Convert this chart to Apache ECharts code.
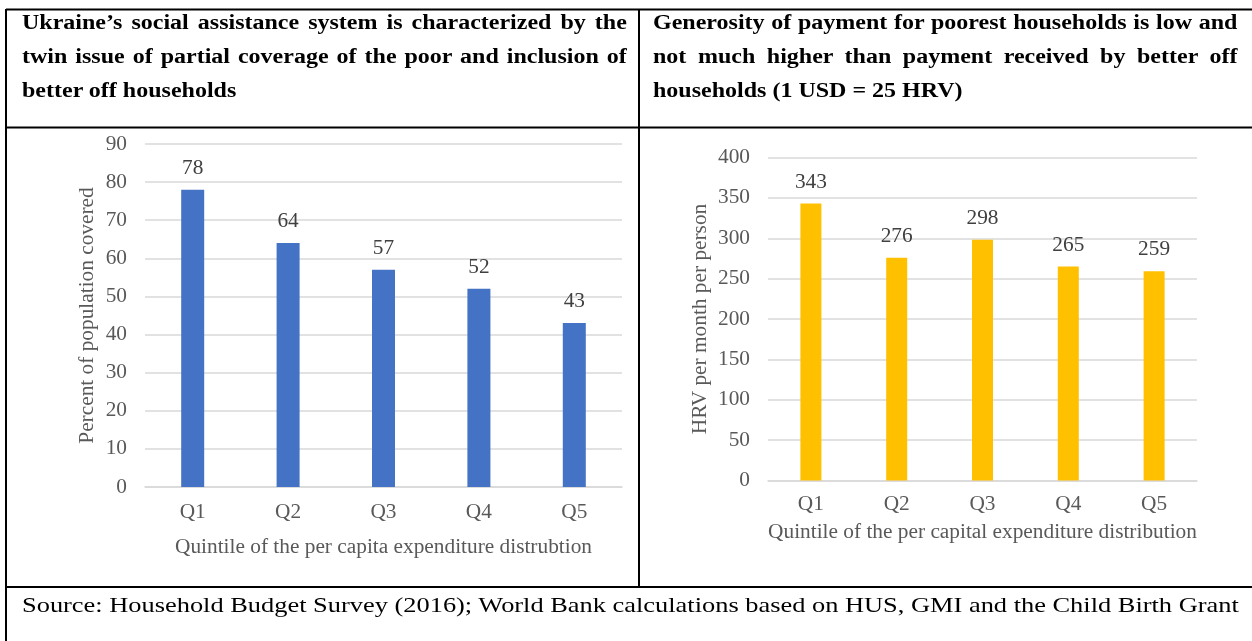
<!DOCTYPE html>
<html>
<head>
<meta charset="utf-8">
<script src="https://cdn.jsdelivr.net/npm/echarts@6/dist/echarts.min.js"></script>
<style>
  html, body { margin: 0; padding: 0; background: #fff; }
  #wrap { position: relative; width: 1252px; height: 641px; overflow: hidden; }
  #chart { position: absolute; left: 0; top: 0; width: 1252px; height: 641px; }
  .head {
    position: absolute; top: 5px;
    font-family: "Liberation Serif", "Times New Roman", serif;
    font-weight: bold; font-size: 20px; line-height: 34px; color: #000;
    transform: scaleX(1.2); transform-origin: 0 0;
  }
  .head div { text-align: justify; text-align-last: justify; white-space: nowrap; }
  .head div.last { text-align-last: left; }
  #src {
    position: absolute; left: 22px; top: 590px;
    font-family: "Liberation Serif", "Times New Roman", serif;
    font-size: 22px; line-height: 30px; color: #000; white-space: nowrap;
    transform: scaleX(1.2); transform-origin: 0 0;
  }
</style>
</head>
<body>
<div id="wrap">
  <div id="chart"></div>
  <div class="head" id="h1" style="left:22px; width:504px;"></div>
  <div class="head" id="h2" style="left:653px; width:487px;"></div>
  <div id="src"></div>
</div>
<script>
// Panel headings, one entry per printed line, and the source note
const headingLeft = [
  'Ukraine\u2019s social assistance system is characterized by the',
  'twin issue of partial coverage of the poor and inclusion of',
  'better off households'
];
const headingRight = [
  'Generosity of payment for poorest households is low and',
  'not much higher than payment received by better off',
  'households (1 USD = 25 HRV)'
];
const sourceNote = 'Source: Household Budget Survey (2016); World Bank calculations based on HUS, GMI and the Child Birth Grant';

// Quintiles of the expenditure distribution
const quintiles = ['Q1', 'Q2', 'Q3', 'Q4', 'Q5'];
// Percent of population covered by social assistance
const coverage = [78, 64, 57, 52, 43];
// Average payment, HRV per month per person
const payment = [343, 276, 298, 265, 259];

// Axis titles
const coverageYName = 'Percent of population covered';
const coverageXName = 'Quintile of the per capita expenditure distrubtion';
const paymentYName = 'HRV per month per person';
const paymentXName = 'Quintile of the per capital expenditure distribution';

function fillHeading(id, lines) {
  const box = document.getElementById(id);
  lines.forEach((t, i) => {
    const d = document.createElement('div');
    d.textContent = t;
    if (i === lines.length - 1) d.className = 'last';
    box.appendChild(d);
  });
}
fillHeading('h1', headingLeft);
fillHeading('h2', headingRight);
document.getElementById('src').textContent = sourceNote;

const serif = '"Liberation Serif", "Times New Roman", serif';
const fs = 21.33;
const gridColor = '#d9d9d9';
const tickColor = '#595959';

function valueAxis(gridIndex, max, interval, name, gap) {
  return {
    type: 'value', gridIndex, min: 0, max, interval,
    name, nameLocation: 'middle', nameGap: gap, nameRotate: 90,
    nameTextStyle: { fontFamily: serif, fontSize: fs, color: tickColor },
    axisLine: { show: false }, axisTick: { show: false },
    axisLabel: { fontFamily: serif, fontSize: fs, color: tickColor, margin: 18 },
    splitLine: { lineStyle: { color: gridColor, width: 1.5 } }
  };
}
function catAxis(gridIndex, name, gap, margin) {
  return {
    type: 'category', gridIndex, data: quintiles,
    name, nameLocation: 'middle', nameGap: gap,
    nameTextStyle: { fontFamily: serif, fontSize: fs, color: tickColor },
    axisLine: { lineStyle: { color: gridColor, width: 1.5 } },
    axisTick: { show: false },
    axisLabel: { fontFamily: serif, fontSize: fs, color: tickColor, margin }
  };
}
function barSeries(idx, data, color, width) {
  return {
    type: 'bar', xAxisIndex: idx, yAxisIndex: idx, data, barWidth: width,
    itemStyle: { color },
    label: { show: true, position: 'top', distance: 11, fontFamily: serif, fontSize: fs, color: '#404040' },
    silent: true, animation: false
  };
}

// Table rules around the two panels
const ruleStyle = { stroke: '#000', lineWidth: 2 };
const rules = [
  [6, 9.5, 1252, 9.5],
  [6, 127.5, 1252, 127.5],
  [6, 587, 1252, 587],
  [6, 9, 6, 641],
  [639, 9, 639, 587]
].map(([x1, y1, x2, y2]) => ({ type: 'line', shape: { x1, y1, x2, y2 }, style: ruleStyle, silent: true }));

const chart = echarts.init(document.getElementById('chart'), null, { renderer: 'canvas' });
chart.setOption({
  animation: false,
  grid: [
    { left: 145, top: 144, width: 477, height: 343 },
    { left: 768, top: 157.5, width: 429, height: 323 }
  ],
  xAxis: [catAxis(0, coverageXName, 50, 15), catAxis(1, paymentXName, 41, 13)],
  yAxis: [valueAxis(0, 90, 10, coverageYName, 47), valueAxis(1, 400, 50, paymentYName, 57)],
  series: [barSeries(0, coverage, '#4472C4', 23), barSeries(1, payment, '#FFC000', 21)],
  graphic: rules
});
</script>
</body>
</html>
